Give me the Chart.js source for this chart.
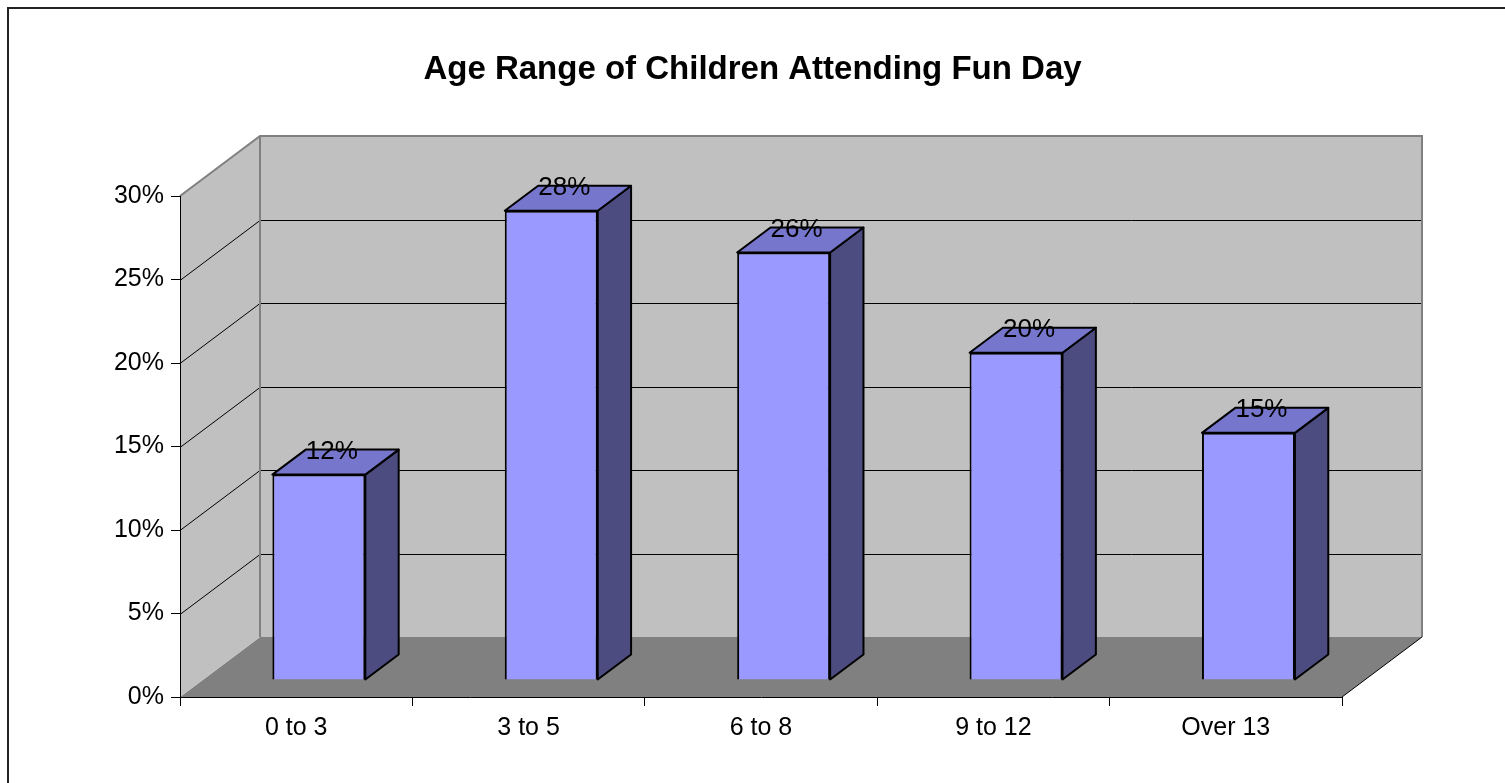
<!DOCTYPE html>
<html><head><meta charset="utf-8">
<script src="https://cdn.jsdelivr.net/npm/chart.js@4"></script>
<style>html,body{margin:0;padding:0;background:#fff;}</style>
</head><body>
<canvas id="c" width="1505" height="783"></canvas>
<script>
// ---- data ----
const categories = ['0 to 3', '3 to 5', '6 to 8', '9 to 12', 'Over 13'];
const percentages = [12.3, 28.1, 25.6, 19.6, 14.8];
const yTicks = [0, 5, 10, 15, 20, 25, 30];
const chartTitle = 'Age Range of Children Attending Fun Day';

// ---- 3D look (styles) ----
const DEPTH_X = 80, DEPTH_Y = -60;
const BAR_FRONT = 0.283, BAR_BACK = 0.70;
const FONT = '"Liberation Sans", Arial, sans-serif';

const threeD = {
  id: 'threeD',
  beforeDraw(chart) {
    const ctx = chart.ctx;
    const {left, right, top, bottom} = chart.chartArea;
    const ys = chart.scales.y;
    ctx.save();
    // outer frame
    ctx.strokeStyle = '#222'; ctx.lineWidth = 2;
    ctx.strokeRect(8, 8, 1510, 790);
    // floor
    ctx.fillStyle = '#808080';
    ctx.beginPath();
    ctx.moveTo(left, bottom); ctx.lineTo(right, bottom);
    ctx.lineTo(right + DEPTH_X, bottom + DEPTH_Y); ctx.lineTo(left + DEPTH_X, bottom + DEPTH_Y);
    ctx.closePath(); ctx.fill();
    // back wall
    ctx.fillStyle = '#C0C0C0';
    ctx.fillRect(left + DEPTH_X, top + DEPTH_Y, right - left, bottom - top);
    // side wall
    ctx.beginPath();
    ctx.moveTo(left, bottom); ctx.lineTo(left, top);
    ctx.lineTo(left + DEPTH_X, top + DEPTH_Y); ctx.lineTo(left + DEPTH_X, bottom + DEPTH_Y);
    ctx.closePath(); ctx.fill();
    // gridlines
    ctx.strokeStyle = '#000'; ctx.lineWidth = 1;
    yTicks.forEach(v => {
      if (v <= ys.min || v >= ys.max) return;
      const yp = Math.round(ys.getPixelForValue(v)) + 0.5;
      ctx.beginPath();
      ctx.moveTo(left, yp);
      ctx.lineTo(left + DEPTH_X, yp + DEPTH_Y);
      ctx.lineTo(right + DEPTH_X, yp + DEPTH_Y);
      ctx.stroke();
    });
    // wall edges
    ctx.strokeStyle = '#808080'; ctx.lineWidth = 2;
    ctx.beginPath();
    ctx.moveTo(left, top); ctx.lineTo(left + DEPTH_X, top + DEPTH_Y);
    ctx.lineTo(right + DEPTH_X, top + DEPTH_Y); ctx.lineTo(right + DEPTH_X, bottom + DEPTH_Y);
    ctx.moveTo(left + DEPTH_X, top + DEPTH_Y); ctx.lineTo(left + DEPTH_X, bottom + DEPTH_Y);
    ctx.stroke();
    // floor right edge
    ctx.strokeStyle = '#000'; ctx.lineWidth = 1;
    ctx.beginPath();
    ctx.moveTo(right, bottom); ctx.lineTo(right + DEPTH_X, bottom + DEPTH_Y);
    ctx.stroke();
    ctx.restore();
  },
  beforeDatasetsDraw(chart) {
    chart.ctx.save();
    chart.ctx.translate(DEPTH_X * BAR_FRONT, DEPTH_Y * BAR_FRONT);
  },
  afterDatasetsDraw(chart) {
    const ctx = chart.ctx;
    ctx.restore();
    const fx = DEPTH_X * BAR_FRONT, fy = DEPTH_Y * BAR_FRONT;
    const bx = DEPTH_X * (BAR_BACK - BAR_FRONT), by = DEPTH_Y * (BAR_BACK - BAR_FRONT);
    const meta = chart.getDatasetMeta(0);
    ctx.save();
    ctx.strokeStyle = '#000'; ctx.lineWidth = 2; ctx.lineJoin = 'round';
    meta.data.forEach((bar, i) => {
      const p = bar.getProps(['x', 'y', 'base', 'width'], true);
      const xl = p.x - p.width / 2 + fx, xr = p.x + p.width / 2 + fx;
      const yt = p.y + fy, yb = p.base + fy;
      // side
      ctx.fillStyle = '#4C4C80';
      ctx.beginPath();
      ctx.moveTo(xr, yt); ctx.lineTo(xr + bx, yt + by);
      ctx.lineTo(xr + bx, yb + by); ctx.lineTo(xr, yb);
      ctx.closePath(); ctx.fill(); ctx.stroke();
      // top
      ctx.fillStyle = '#7676CC';
      ctx.beginPath();
      ctx.moveTo(xl, yt); ctx.lineTo(xr, yt);
      ctx.lineTo(xr + bx, yt + by); ctx.lineTo(xl + bx, yt + by);
      ctx.closePath(); ctx.fill(); ctx.stroke();
    });
    // data labels
    ctx.fillStyle = '#000';
    ctx.font = '26px ' + FONT;
    ctx.textAlign = 'center'; ctx.textBaseline = 'middle';
    meta.data.forEach((bar, i) => {
      const p = bar.getProps(['x', 'y'], true);
      const v = chart.data.datasets[0].data[i];
      ctx.fillText(Math.round(v) + '%', p.x + fx + 13, p.y + fy + by + 2);
    });
    ctx.restore();
  }
};

new Chart(document.getElementById('c'), {
  type: 'bar',
  data: {
    labels: categories,
    datasets: [{
      data: percentages,
      backgroundColor: '#9999FF',
      borderColor: '#000',
      borderWidth: 2,
      categoryPercentage: 1,
      barPercentage: 0.4
    }]
  },
  plugins: [threeD],
  options: {
    responsive: false,
    animation: false,
    devicePixelRatio: 1,
    layout: { padding: 0 },
    plugins: {
      legend: { display: false },
      tooltip: { enabled: false },
      title: {
        display: true,
        text: chartTitle,
        color: '#000',
        font: { family: FONT, size: 33, weight: 'bold', lineHeight: 1.2 },
        padding: { top: 50, bottom: 196 - 50 - 39.6 }
      }
    },
    scales: {
      x: {
        grid: { display: true, offset: true, drawOnChartArea: false, drawTicks: true, tickLength: 9, color: '#000', lineWidth: 1 },
        border: { display: true, color: '#000', width: 1 },
        ticks: { color: '#000', font: { family: FONT, size: 25 }, padding: 7, maxRotation: 0 },
        afterFit(s) { s.height = 86; }
      },
      y: {
        min: 0, max: 30,
        grid: { display: true, drawOnChartArea: false, drawTicks: true, tickLength: 9, color: '#000', lineWidth: 1 },
        border: { display: true, color: '#000', width: 1 },
        ticks: { color: '#000', font: { family: FONT, size: 25 }, padding: 7, callback: v => v + '%' },
        afterBuildTicks(s) { s.ticks = yTicks.map(v => ({ value: v })); },
        afterFit(s) { s.width = 180; }
      },
      yRightSpace: {
        position: 'right',
        display: true,
        min: 0, max: 30,
        grid: { display: false },
        border: { display: false },
        ticks: { display: false },
        afterFit(s) { s.width = 163; }
      }
    }
  }
});
</script>
</body></html>
